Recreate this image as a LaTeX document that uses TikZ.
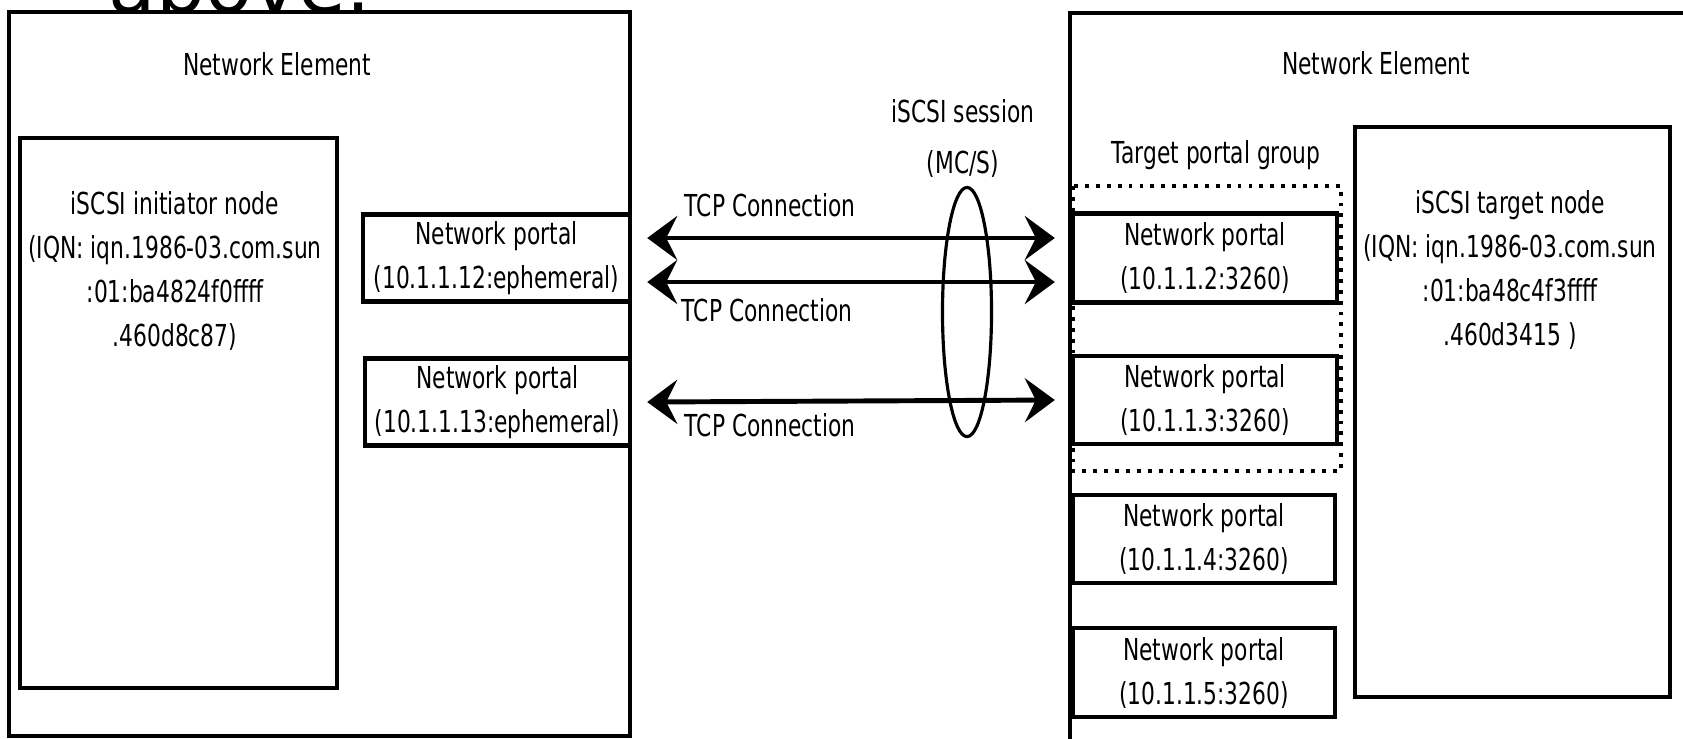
\documentclass[tikz,border=0pt]{standalone}
\usepackage{fontspec}
\setmainfont{DejaVu Sans}[FakeStretch=0.72]
\newfontfamily\headfont{DejaVu Sans}
\usetikzlibrary{arrows.meta,shapes.geometric}

\tikzset{
  nebox/.style={draw,line width=1.2pt},
  portal/.style={draw,line width=1.2pt,minimum width=2.65cm,minimum height=0.87cm,inner sep=0pt,align=center},
  lbl/.style={inner sep=0pt,align=center},
  tcp/.style={line width=1.4pt,{Stealth[length=0.3cm,width=0.44cm,inset=0.11cm]}-{Stealth[length=0.3cm,width=0.44cm,inset=0.11cm]}}
}

\begin{document}
\begin{tikzpicture}[x=0.01cm,y=-0.01cm,font=\fontsize{8.6}{12.5}\selectfont]
  \useasboundingbox (0,0) rectangle (1683,738);
  % heading cut off by the top edge
  \node[anchor=base west,inner sep=0pt,font=\headfont\fontsize{22}{24}\selectfont] (cut) at (108,12) {above:};

  % initiator side
  \draw[nebox] (9,12) rectangle (630,736);
  \node[lbl] (lne) at (277,64) {Network Element};
  \draw[nebox] (20,138) rectangle (337,688);
  \node[lbl] (init) at (175,271) {iSCSI initiator node\\(IQN: iqn.1986-03.com.sun\\:01:ba4824f0ffff\\.460d8c87)};
  \node[portal,minimum width=2.67cm] (lp1) at (496.5,258) {Network portal\\(10.1.1.12:ephemeral)};
  \node[portal] (lp2) at (497.5,402) {Network portal\\(10.1.1.13:ephemeral)};

  % target side
  \draw[nebox] (1070,13) rectangle (1700,745);
  \node[lbl] (rne) at (1376,63) {Network Element};
  \node[lbl] (tpg) at (1216,155) {Target portal group};
  \draw[line width=1.1pt,dotted] (1073,186) rectangle (1341,471);
  \node[portal,minimum width=2.64cm,minimum height=0.89cm] (rp1) at (1205,258) {Network portal\\(10.1.1.2:3260)};
  \node[portal,minimum width=2.64cm,minimum height=0.88cm] (rp2) at (1205,400) {Network portal\\(10.1.1.3:3260)};
  \node[portal,minimum width=2.62cm,minimum height=0.88cm] (rp3) at (1204,539) {Network portal\\(10.1.1.4:3260)};
  \node[portal,minimum width=2.62cm,minimum height=0.89cm] (rp4) at (1204,672.5) {Network portal\\(10.1.1.5:3260)};
  \draw[nebox] (1355,127) rectangle (1670,697);
  \node[lbl] (targ) at (1510,270) {iSCSI target node\\(IQN: iqn.1986-03.com.sun\\:01:ba48c4f3ffff\\.460d3415 )};

  % connections and session
  \draw[tcp] ([xshift=0.15cm,yshift=0.2cm]lp1.east) -- ([xshift=-0.16cm,yshift=0.2cm]rp1.west);
  \draw[tcp] ([xshift=0.15cm,yshift=-0.24cm]lp1.east) -- ([xshift=-0.16cm,yshift=-0.24cm]rp1.west);
  \draw[tcp] ([xshift=0.15cm]lp2.east) -- ([xshift=-0.16cm]rp2.west);
  \node[lbl] (tcp1) at (770,205) {TCP Connection};
  \node[lbl] (tcp2) at (767,310) {TCP Connection};
  \node[lbl] (tcp3) at (770,425) {TCP Connection};
  \node[draw,ellipse,line width=0.9pt,minimum width=0.49cm,minimum height=2.49cm,inner sep=0pt] (session) at (967,312) {};
  \node[lbl] (sess) at (963,138) {iSCSI session\\[2pt](MC/S)};
\end{tikzpicture}
\end{document}
